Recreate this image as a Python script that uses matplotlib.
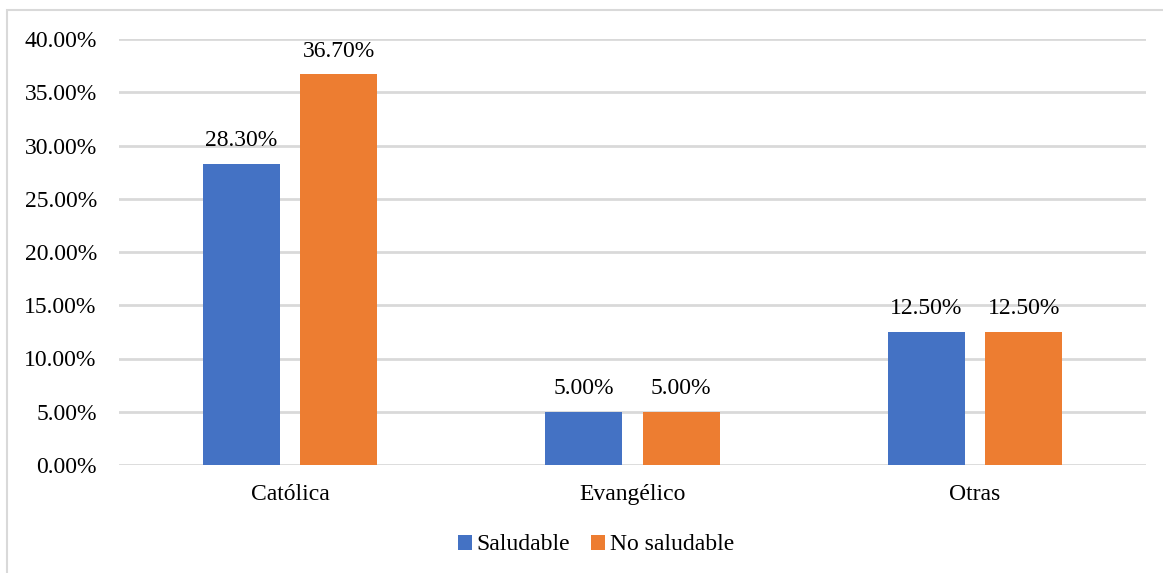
import matplotlib.pyplot as plt
import numpy as np
from matplotlib.patches import Rectangle
from matplotlib.ticker import FuncFormatter

# Religión vs. estado nutricional (%)
categories = ['Católica', 'Evangélico', 'Otras']
saludable = [28.30, 5.00, 12.50]
no_saludable = [36.70, 5.00, 12.50]
series_names = ['Saludable', 'No saludable']
y_ticks = [0, 5, 10, 15, 20, 25, 30, 35, 40]

blue = '#4472c4'
orange = '#ed7d31'
grid_grey = '#d9d9d9'

plt.rcParams['font.family'] = ['Liberation Serif', 'DejaVu Serif']

fig = plt.figure(figsize=(11.63, 5.73), dpi=100)
W, H = 1163, 573
ax = fig.add_axes([119 / W, 1 - 465 / H, (1146 - 119) / W, (465 - 39) / H])

# outer chart frame (light grey)
fig.patches.append(Rectangle((7 / W, -0.1), 1.2, 1 - 10 / H + 0.1,
                             transform=fig.transFigure, fill=False,
                             edgecolor=grid_grey, linewidth=1.5))

x = np.arange(len(categories))
w = 0.225
off = 0.1425
b1 = ax.bar(x - off, saludable, w, color=blue, label=series_names[0], zorder=3)
b2 = ax.bar(x + off, no_saludable, w, color=orange, label=series_names[1], zorder=3)

for bars, vals in ((b1, saludable), (b2, no_saludable)):
    for rect, v in zip(bars, vals):
        ax.annotate(f'{v:.2f}%', (rect.get_x() + rect.get_width() / 2, v),
                    xytext=(0, 9), textcoords='offset points',
                    ha='center', va='bottom', fontsize=17, color='#000000')

ax.set_xlim(-0.5, len(categories) - 0.5)
ax.set_ylim(0, 40)
ax.set_yticks(y_ticks)
ax.yaxis.set_major_formatter(FuncFormatter(lambda v, p: f'{v:.2f}%'))
ax.set_xticks(x)
ax.set_xticklabels(categories)
ax.tick_params(axis='both', length=0, labelsize=17, colors='#000000')
ax.tick_params(axis='y', pad=16)
ax.tick_params(axis='x', pad=14)
ax.grid(axis='y', color=grid_grey, linewidth=2, zorder=0)
for s in ax.spines.values():
    s.set_visible(False)

ax.legend(loc='center', bbox_to_anchor=(596 / W, 1 - 545 / H),
          bbox_transform=fig.transFigure, ncol=2, frameon=False,
          fontsize=17, handlelength=0.6, handleheight=0.6,
          handletextpad=0.2, columnspacing=0.9)

fig.savefig('out.png', dpi=100)
